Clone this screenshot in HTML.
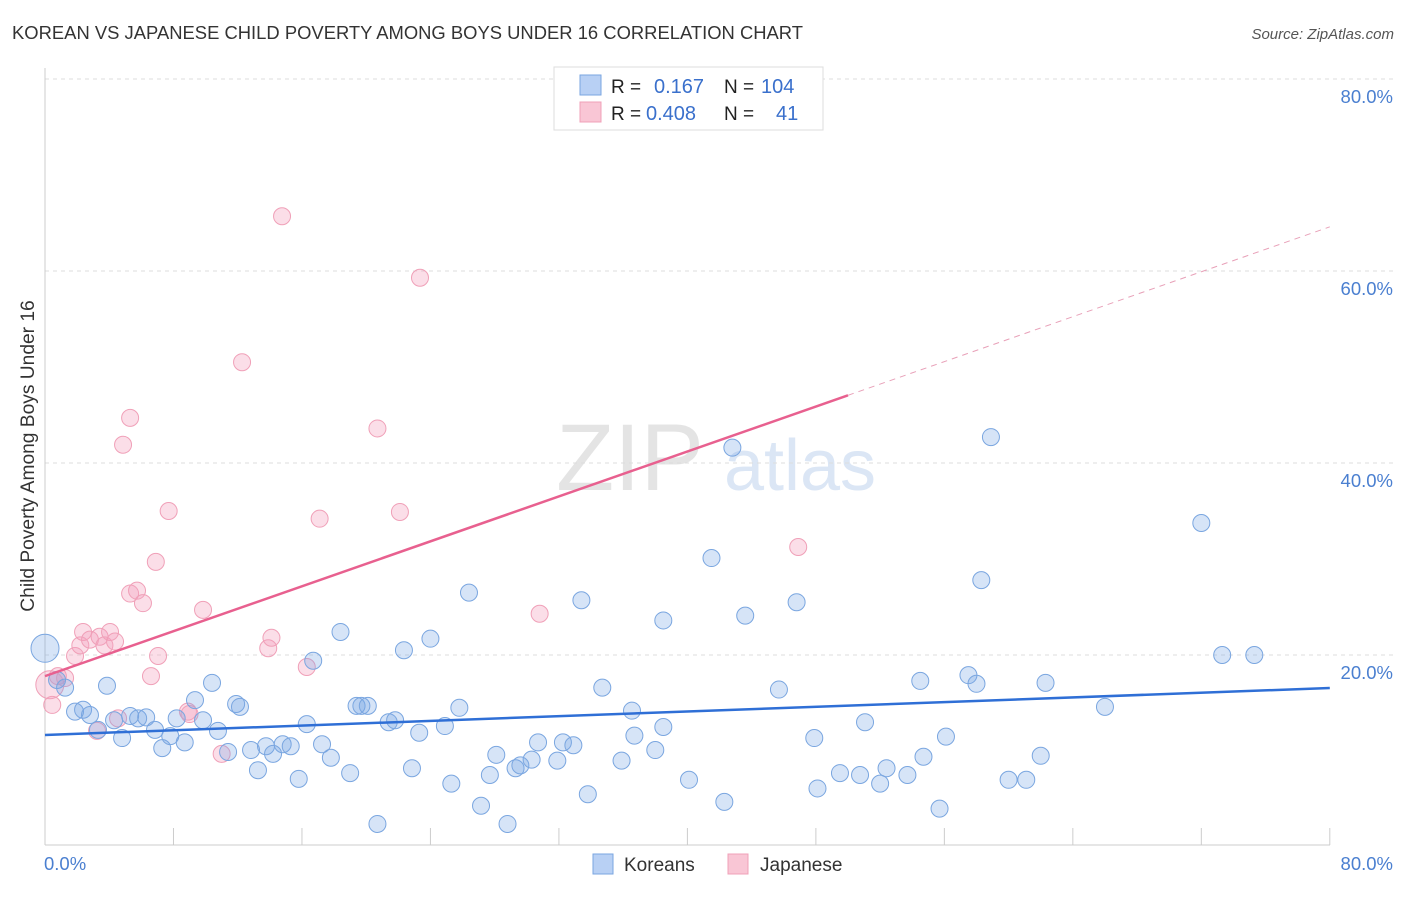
<!DOCTYPE html>
<html><head><meta charset="utf-8"><style>
body{margin:0;background:#fff;font-family:"Liberation Sans",sans-serif;}
svg text{font-family:"Liberation Sans",sans-serif;}
</style></head><body>
<svg id="chart" width="1406" height="892" xmlns="http://www.w3.org/2000/svg">
<text x="12" y="39" font-size="18.4" fill="#333" textLength="791">KOREAN VS JAPANESE CHILD POVERTY AMONG BOYS UNDER 16 CORRELATION CHART</text>
<text x="1394" y="39" font-size="15" fill="#555" font-style="italic" text-anchor="end">Source: ZipAtlas.com</text>
<g>
<text x="630" y="490" font-size="95" fill="#e4e4e4" font-family="Liberation Serif" text-anchor="middle">ZIP</text>
<text x="800" y="490" font-size="72" fill="#dbe6f5" text-anchor="middle">atlas</text>
</g>
<g id="grid"></g><g id="axes"></g><g id="marks"></g>
<g>
<rect x="554" y="67" width="269" height="63" fill="#fff" stroke="#ddd"/>
<rect x="580" y="75" width="21" height="20" fill="#b8d0f4" stroke="#7aa6e0"/>
<rect x="580" y="102" width="21" height="20" fill="#f9c6d5" stroke="#f0a0b8"/>
<text x="611" y="93" font-size="19" fill="#222">R = </text><text x="654" y="93" font-size="20" fill="#3a70cc">0.167</text>
<text x="724" y="93" font-size="19" fill="#222">N = </text><text x="761" y="93" font-size="20" fill="#3a70cc">104</text>
<text x="611" y="120" font-size="19" fill="#222">R = </text><text x="646" y="120" font-size="20" fill="#3a70cc">0.408</text>
<text x="724" y="120" font-size="19" fill="#222">N = </text><text x="776" y="120" font-size="20" fill="#3a70cc">41</text>
</g>
<g>
<rect x="593" y="854" width="20" height="20" fill="#b8d0f4" stroke="#7aa6e0"/>
<text x="624" y="871" font-size="19" fill="#333">Koreans</text>
<rect x="728" y="854" width="20" height="20" fill="#f9c6d5" stroke="#f0a0b8"/>
<text x="760" y="871" font-size="19" fill="#333">Japanese</text>
</g>
</svg>
<script>
const yTicks=[20,40,60,80];
const yTickLabels=["20.0%","40.0%","60.0%","80.0%"];
const xEndLabels=["0.0%","80.0%"];
const koreanX=[0,0.75,1.25,1.87,2.37,2.8,3.3,3.86,4.3,4.8,5.3,5.8,6.3,6.85,7.3,7.8,8.2,8.7,9.34,9.84,10.4,10.77,11.4,11.9,12.14,12.83,13.26,13.76,14.2,14.8,15.3,15.8,16.3,16.7,17.25,17.8,18.4,19.0,19.4,19.7,20.1,20.7,21.4,21.8,22.35,22.85,23.3,24.0,24.9,25.3,25.8,26.4,27.15,27.7,28.1,28.8,29.3,29.6,30.3,30.7,31.9,32.25,32.9,33.4,33.8,34.7,35.9,36.55,36.7,38.0,38.5,38.5,40.1,41.5,42.3,42.8,43.6,45.7,46.8,47.9,48.1,49.5,50.75,51.06,52.0,52.4,53.7,54.7,54.5,55.7,56.1,57.5,58.0,58.3,58.9,60.0,61.1,62.0,62.3,66.0,72.0,73.3,75.3];
const koreanY=[20.7,17.4,16.6,14.1,14.3,13.75,12.2,16.8,13.2,11.35,13.65,13.4,13.5,12.2,10.3,11.55,13.4,10.9,15.3,13.2,17.1,12.1,9.9,14.9,14.6,10.1,8.0,10.5,9.7,10.7,10.5,7.1,12.8,19.4,10.7,9.3,22.4,7.7,14.7,14.7,14.7,2.4,13.0,13.2,20.5,8.2,11.9,21.7,12.6,6.6,14.5,26.5,4.3,7.5,9.6,2.4,8.2,8.5,9.1,10.9,9.0,10.9,10.6,25.7,5.5,16.6,9.0,14.2,11.6,10.1,23.6,12.5,7.0,30.1,4.7,41.6,24.1,16.4,25.5,11.35,6.1,7.7,7.5,13.0,6.6,8.2,7.5,9.4,17.3,4.0,11.5,17.9,17.0,27.8,42.7,7.0,7.0,9.5,17.1,14.6,33.75,20.0,20.0];
const japaneseX=[0.3,0.45,0.8,1.25,1.87,2.2,2.37,2.8,3.24,3.4,3.7,4.05,4.36,4.55,4.86,5.3,5.3,5.73,6.1,6.6,6.9,7.04,7.7,8.9,9.0,9.84,11.0,12.27,13.9,14.1,14.76,16.3,17.1,20.7,22.1,23.35,30.8,46.9];
const japaneseY=[16.9,14.8,17.8,17.6,19.9,21.0,22.4,21.6,12.1,21.9,21.0,22.4,21.4,13.4,41.9,44.7,26.4,26.7,25.4,17.8,29.7,19.9,35.0,14.1,13.85,24.7,9.7,50.5,20.7,21.8,65.7,18.75,34.2,43.6,34.9,59.3,24.3,31.25];
const koreanTrend=[11.67,16.56];
const japaneseTrend=[17.8,64.6];
const japaneseSolidEnd=50;
const NS="http://www.w3.org/2000/svg";
const xs=v=>45+v*16.06, ys=v=>847-v*9.6;
function mk(t,a,p){const e=document.createElementNS(NS,t);for(const k in a)e.setAttribute(k,a[k]);document.getElementById(p).appendChild(e);return e;}
yTicks.forEach((t,i)=>{
 const g=mk('line',{x1:45,x2:1394,y1:ys(t),y2:ys(t),stroke:'#ddd','stroke-dasharray':'4,4'},'grid');
 
 
 const l=mk('text',{x:1393,y:ys(t)+24,'font-size':18.5,fill:'#4a7fd0','text-anchor':'end'},'axes');l.textContent=yTickLabels[i];
 
 
});
const ax=mk('line',{x1:45,x2:1330,y1:845,y2:845,stroke:'#ccc'},'axes');


const ay=mk('line',{x1:45,x2:45,y1:68,y2:845,stroke:'#ccc'},'axes');


for(let v=8;v<=80;v+=8){const t=mk('line',{x1:xs(v),x2:xs(v),y1:828,y2:845,stroke:'#ccc'},'axes');
 
 }
const xl0=mk('text',{x:44,y:870,'font-size':18.5,fill:'#4a7fd0'},'axes');xl0.textContent=xEndLabels[0];


const xl1=mk('text',{x:1393,y:870,'font-size':18.5,fill:'#4a7fd0','text-anchor':'end'},'axes');xl1.textContent=xEndLabels[1];


const yt=mk('text',{x:0,y:0,'font-size':19.2,fill:'#333','text-anchor':'middle',transform:'translate(34,456) rotate(-90)'},'axes');yt.textContent='Child Poverty Among Boys Under 16';


japaneseX.forEach((x,i)=>{const c=mk('circle',{cx:xs(x),cy:ys(japaneseY[i]),r:i==0?14:8.5,fill:'rgba(244,160,188,0.35)',stroke:'#f0a0b8','stroke-width':1},'marks');
 
 });
koreanX.forEach((x,i)=>{const c=mk('circle',{cx:xs(x),cy:ys(koreanY[i]),r:i==0?14:8.5,fill:'rgba(120,165,230,0.3)',stroke:'#7aa6e0','stroke-width':1},'marks');
 
 });
const kl=mk('line',{x1:xs(0),y1:ys(koreanTrend[0]),x2:xs(80),y2:ys(koreanTrend[1]),stroke:'#2f6fd6','stroke-width':2.5},'marks');


const jy=x=>japaneseTrend[0]+(japaneseTrend[1]-japaneseTrend[0])*x/80;
const jl=mk('line',{x1:xs(0),y1:ys(jy(0)),x2:xs(japaneseSolidEnd),y2:ys(jy(japaneseSolidEnd)),stroke:'#e8608f','stroke-width':2.5},'marks');


const jd=mk('line',{x1:xs(japaneseSolidEnd),y1:ys(jy(japaneseSolidEnd)),x2:xs(80),y2:ys(jy(80)),stroke:'#e8a0b8','stroke-width':1,'stroke-dasharray':'6,5'},'marks');


</script>
</body></html>
